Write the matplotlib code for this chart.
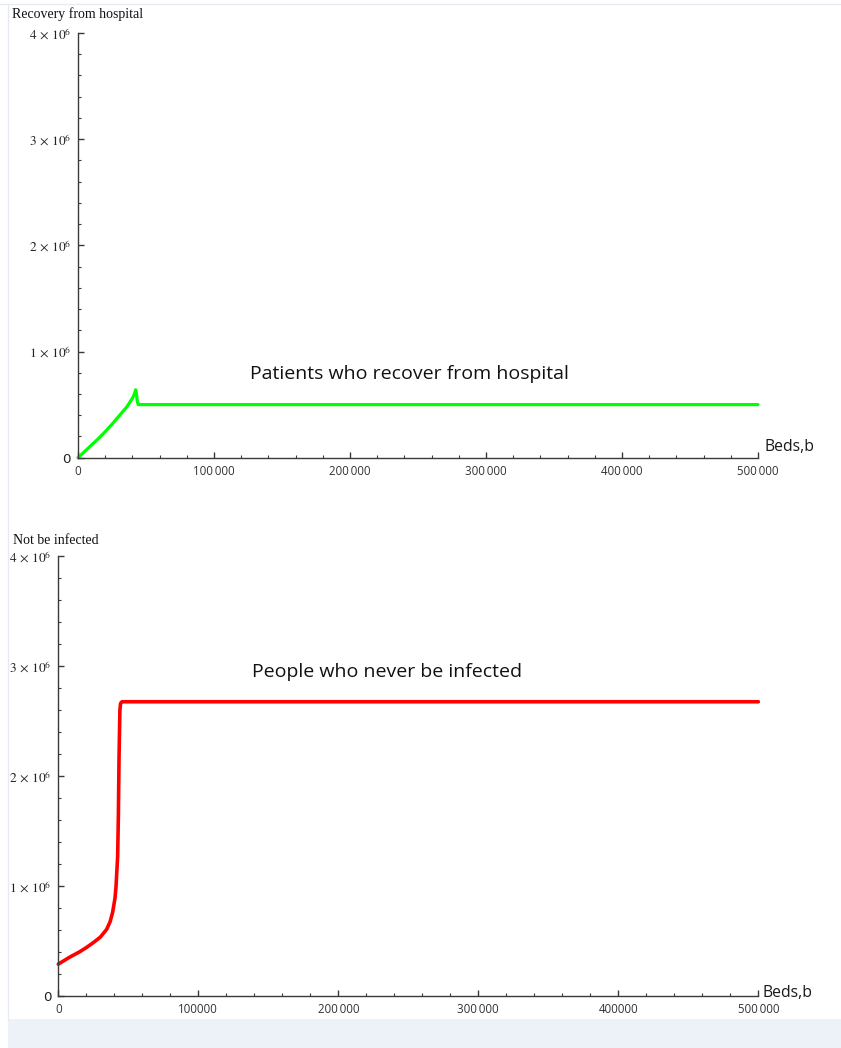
import matplotlib
matplotlib.use("Agg")
import matplotlib.pyplot as plt
from matplotlib.patches import Rectangle
from matplotlib.lines import Line2D
from matplotlib.ticker import MultipleLocator, FixedLocator

plt.rcParams["mathtext.fontset"] = "stix"

# Hospital recoveries as a function of available beds
beds_recovery = [0, 5000, 10000, 15000, 20000, 25000, 30000, 33300, 36000, 40000,
                 41500, 42400, 43000, 43600, 44300, 500000]
recovered = [0, 0.06e6, 0.12e6, 0.18e6, 0.245e6, 0.315e6, 0.39e6, 0.44e6, 0.48e6, 0.56e6,
             0.60e6, 0.64e6, 0.60e6, 0.53e6, 0.50e6, 0.50e6]

# People never infected as a function of available beds
beds_uninfected = [0, 8400, 15000, 20000, 25000, 30000, 34500, 37000, 38800, 40500,
                   41200, 42400, 42900, 43400, 44000, 44500, 45500, 500000]
uninfected = [0.29e6, 0.355e6, 0.40e6, 0.44e6, 0.485e6, 0.535e6, 0.605e6, 0.675e6, 0.76e6, 0.89e6,
              0.99e6, 1.27e6, 1.63e6, 2.18e6, 2.60e6, 2.66e6, 2.675e6, 2.675e6]

x_major = [0, 100000, 200000, 300000, 400000, 500000]
x_labels_top = ["0", "100\u2009000", "200\u2009000", "300\u2009000", "400\u2009000", "500\u2009000"]
x_labels_bottom = ["0", "100000", "200\u2009000", "300\u2009000", "400000", "500\u2009000"]
y_major = [0, 1e6, 2e6, 3e6, 4e6]
y_labels = ["0", r"$1\,\times\,10^{6}$", r"$2\,\times\,10^{6}$", r"$3\,\times\,10^{6}$",
            r"$4\,\times\,10^{6}$"]

W, H = 841, 1048
fig = plt.figure(figsize=(W / 100, H / 100), dpi=100)
fig.patch.set_facecolor("white")

# page frame
fig.patches.append(Rectangle((8 / W, 0), 1 - 8 / W, 29 / H, transform=fig.transFigure,
                             facecolor="#edf1f8", edgecolor="none", zorder=0))
fig.lines.append(Line2D([8 / W, 8 / W], [29 / H, 1 - 4 / H], transform=fig.transFigure,
                        color="#e6ebf3", lw=1.0))
fig.lines.append(Line2D([0, 1], [1 - 4 / H, 1 - 4 / H], transform=fig.transFigure,
                        color="#e6ebf3", lw=1.0))

axis_col = "#3a3a3a"
tick_font = "Open Sans"


def style_axes(ax, xlabels):
    for s in ("top", "right"):
        ax.spines[s].set_visible(False)
    for s in ("left", "bottom"):
        ax.spines[s].set_color(axis_col)
        ax.spines[s].set_linewidth(1.0)
    ax.set_xlim(0, 500000)
    ax.set_ylim(0, 4e6)
    ax.xaxis.set_major_locator(FixedLocator(x_major))
    ax.xaxis.set_minor_locator(MultipleLocator(20000))
    ax.yaxis.set_major_locator(FixedLocator(y_major))
    ax.yaxis.set_minor_locator(MultipleLocator(0.2e6))
    ax.set_xticklabels(xlabels, fontfamily=tick_font, fontsize=8.3, color="#333333")
    ax.set_yticklabels(y_labels, fontsize=9.6, color="#222222")
    ax.tick_params(which="major", direction="in", length=4.5, width=1.0, color=axis_col)
    ax.tick_params(which="minor", direction="in", length=2.5, width=0.8, color=axis_col)
    ax.tick_params(axis="x", which="major", pad=5)
    ax.tick_params(axis="y", which="major", pad=5)
    ax.set_facecolor("none")


# upper panel
ax1 = fig.add_axes([78 / W, 1 - 457.7 / H, 680 / W, 424.7 / H])
style_axes(ax1, x_labels_top)
ax1.plot(beds_recovery, recovered, color="#00ff00", lw=2.3,
         solid_joinstyle="round", solid_capstyle="round", clip_on=False)
fig.text(250 / W, 1 - 374 / H, "Patients who recover from hospital",
         fontfamily=tick_font, fontsize=14, color="#111111", va="center", ha="left")
fig.text(765 / W, 1 - 447 / H, "Beds,b", fontfamily=tick_font, fontsize=11.3,
         color="#1a1a1a", va="center", ha="left")
fig.text(12 / W, 1 - 14 / H, "Recovery from hospital", fontfamily="Liberation Serif",
         fontsize=10, color="#111111", va="center", ha="left")

# lower panel
ax2 = fig.add_axes([58.3 / W, 1 - 996 / H, 700 / W, 440 / H])
style_axes(ax2, x_labels_bottom)
ax2.plot(beds_uninfected, uninfected, color="#ff0000", lw=2.6,
         solid_joinstyle="round", solid_capstyle="round", clip_on=False)
fig.text(252 / W, 1 - 672 / H, "People who never be infected",
         fontfamily=tick_font, fontsize=14, color="#111111", va="center", ha="left")
fig.text(763 / W, 1 - 993 / H, "Beds,b", fontfamily=tick_font, fontsize=11.3,
         color="#1a1a1a", va="center", ha="left")
fig.text(13 / W, 1 - 540 / H, "Not be infected", fontfamily="Liberation Serif",
         fontsize=10, color="#111111", va="center", ha="left")

fig.savefig("out.png", dpi=100, facecolor="white")
